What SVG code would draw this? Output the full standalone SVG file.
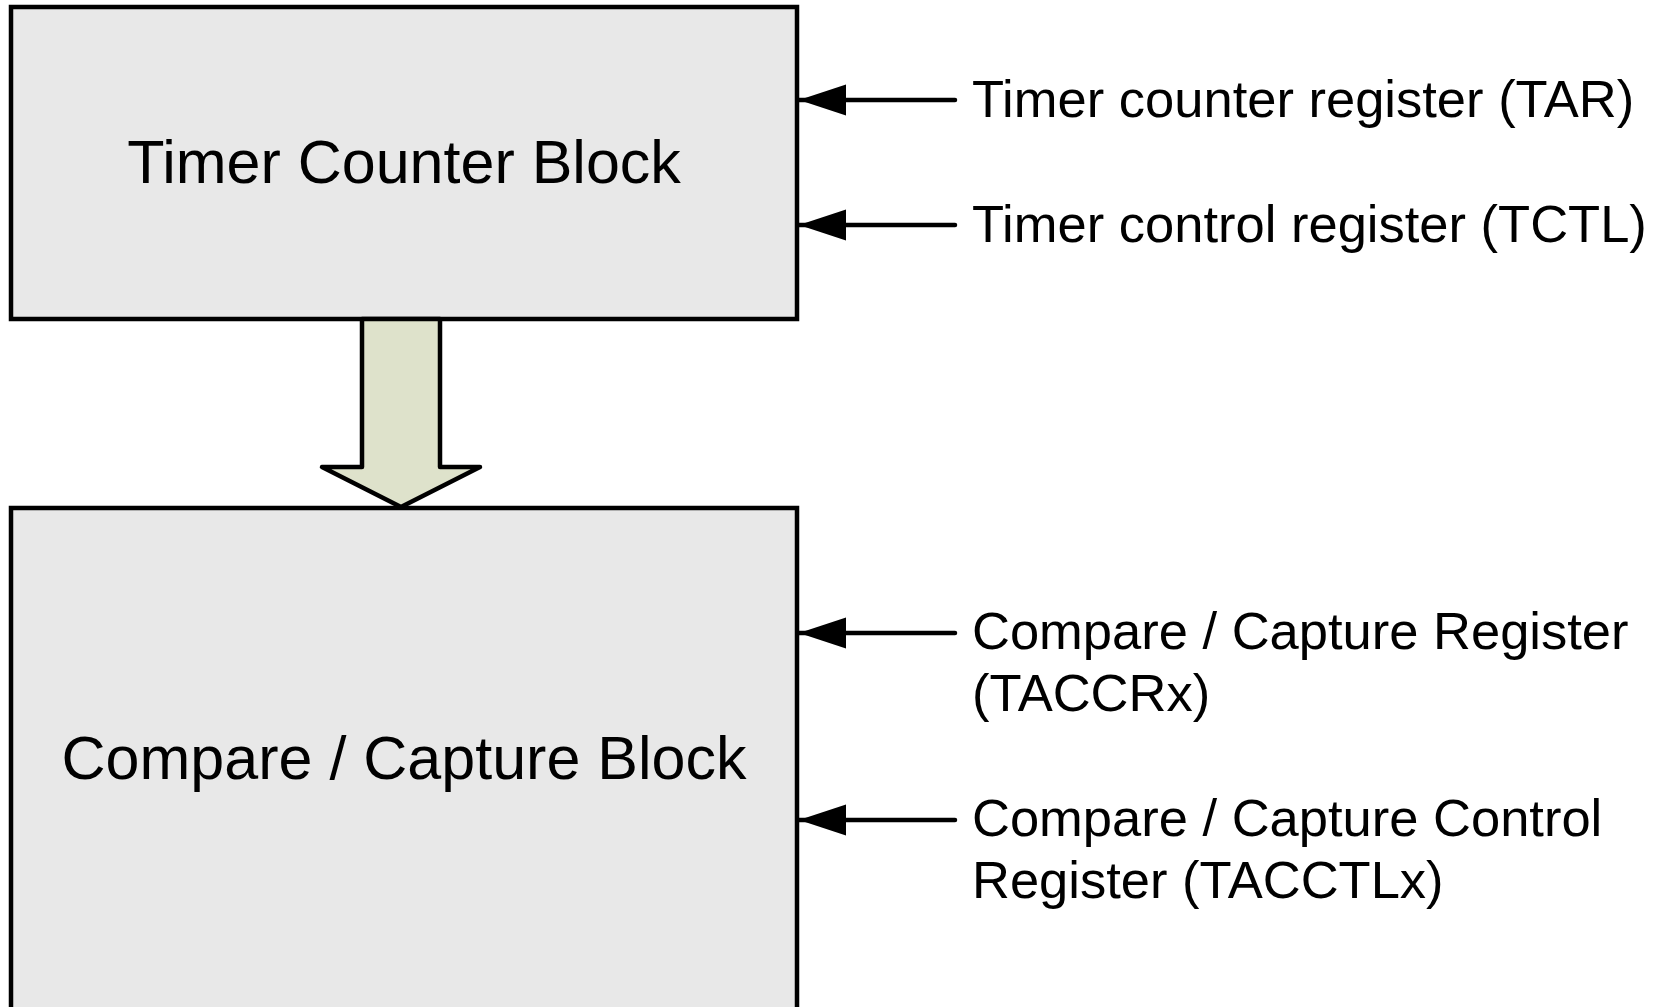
<svg xmlns="http://www.w3.org/2000/svg" width="1662" height="1007" viewBox="0 0 1662 1007">
<defs>
<style>
.block{fill:#e8e8e8;stroke:#000;stroke-width:4.5}
.title{font-family:"Liberation Sans",Arial,sans-serif;font-size:61px;fill:#000;text-anchor:middle}
.reg{font-family:"Liberation Sans",Arial,sans-serif;font-size:52.5px;fill:#000}
.conn{stroke:#000;stroke-width:4.5;fill:none;stroke-linecap:round}
.bigarrow{fill:#dee2cb;stroke:#000;stroke-width:4.5;stroke-linejoin:round}
</style>
<marker id="ah" markerUnits="userSpaceOnUse" markerWidth="48" markerHeight="32" refX="47" refY="16" orient="auto" viewBox="0 0 48 32">
<path d="M47,16 L0,0.5 L0,31.5 Z" fill="#000"/>
</marker>
</defs>
<rect width="1662" height="1007" fill="#fff"/>
<g id="timer-counter-block">
<rect class="block" x="11" y="7" width="786" height="312"/>
<text class="title" x="404" y="183">Timer Counter Block</text>
</g>
<g id="compare-capture-block">
<rect class="block" x="11" y="508" width="786" height="520"/>
<text class="title" x="404" y="779">Compare / Capture Block</text>
</g>
<g id="flow-arrow">
<polygon class="bigarrow" points="362,319 440,319 440,467 480,467 401,507 322,467 362,467"/>
</g>
<g id="connectors">
<line class="conn" x1="955" y1="100" x2="799" y2="100" marker-end="url(#ah)"/>
<line class="conn" x1="955" y1="225" x2="799" y2="225" marker-end="url(#ah)"/>
<line class="conn" x1="955" y1="633" x2="799" y2="633" marker-end="url(#ah)"/>
<line class="conn" x1="955" y1="820" x2="799" y2="820" marker-end="url(#ah)"/>
</g>
<g id="reg-tar">
<text class="reg" x="972" y="117">Timer counter register (TAR)</text>
</g>
<g id="reg-tctl">
<text class="reg" x="972" y="242">Timer control register (TCTL)</text>
</g>
<g id="reg-taccrx">
<text class="reg" x="972" y="649">Compare / Capture Register</text>
<text class="reg" x="972" y="711">(TACCRx)</text>
</g>
<g id="reg-tacctlx">
<text class="reg" x="972" y="836">Compare / Capture Control</text>
<text class="reg" x="972" y="898">Register (TACCTLx)</text>
</g>
</svg>
